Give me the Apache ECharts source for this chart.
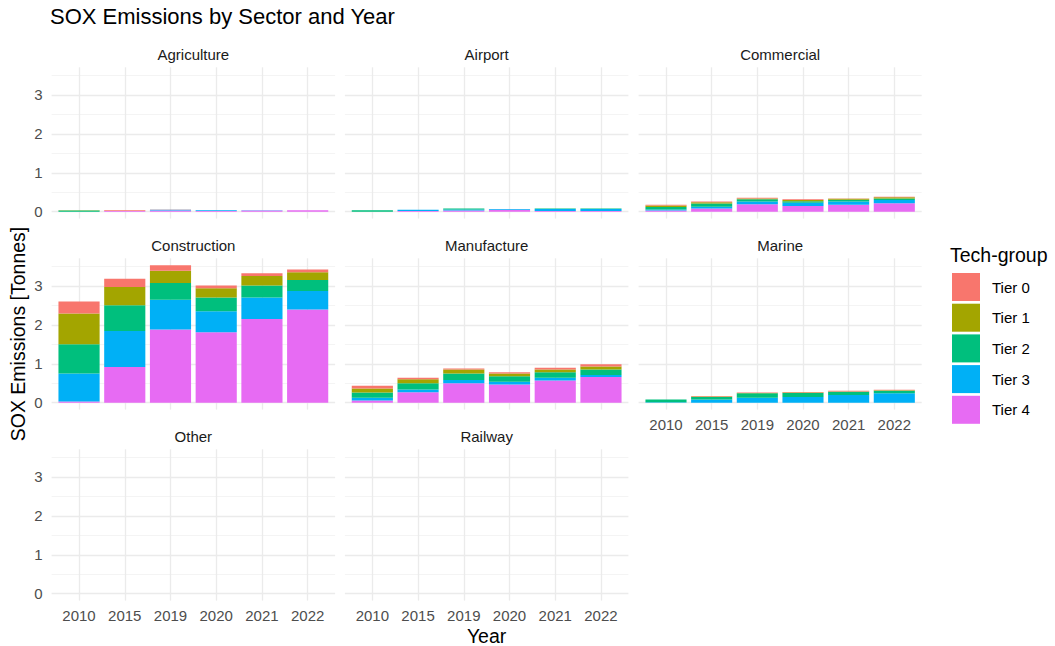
<!DOCTYPE html>
<html>
<head>
<meta charset="utf-8">
<script src="https://cdn.jsdelivr.net/npm/echarts@6/dist/echarts.min.js"></script>
<style>
  html, body { margin: 0; padding: 0; background: #ffffff; }
  #chart { width: 1055px; height: 646px; }
</style>
</head>
<body>
<div id="chart"></div>
<script>
// Facet labels, years and tech groups
const sectors = ['Agriculture', 'Airport', 'Commercial', 'Construction', 'Manufacture', 'Marine', 'Other', 'Railway'];
const years = ['2010', '2015', '2019', '2020', '2021', '2022'];
const tiers = ['Tier 0', 'Tier 1', 'Tier 2', 'Tier 3', 'Tier 4'];
const yTicks = [0, 1, 2, 3];

// SOX emissions in tonnes, one row per sector (same order as sectors), one value per year
const tier0 = [
  [0, 0.02, 0.01, 0, 0, 0],
  [0, 0, 0, 0, 0, 0],
  [0.02, 0.02, 0.02, 0.02, 0.01, 0.015],
  [0.31, 0.21, 0.14, 0.07, 0.07, 0.07],
  [0.07, 0.04, 0.03, 0.03, 0.05, 0.06],
  [0, 0.01, 0.01, 0.015, 0.02, 0.01],
  [0, 0, 0, 0, 0, 0],
  [0, 0, 0, 0, 0, 0]
];
const tier1 = [
  [0.01, 0, 0, 0, 0, 0],
  [0, 0, 0, 0, 0, 0],
  [0.04, 0.03, 0.02, 0.03, 0.02, 0.03],
  [0.79, 0.47, 0.32, 0.24, 0.24, 0.20],
  [0.10, 0.10, 0.10, 0.07, 0.07, 0.08],
  [0, 0.01, 0.01, 0.01, 0.01, 0.01],
  [0, 0, 0, 0, 0, 0],
  [0, 0, 0, 0, 0, 0]
];
const tier2 = [
  [0.03, 0, 0, 0, 0, 0],
  [0.035, 0, 0.02, 0, 0.01, 0.01],
  [0.06, 0.08, 0.06, 0.04, 0.05, 0.04],
  [0.75, 0.66, 0.43, 0.35, 0.31, 0.28],
  [0.135, 0.16, 0.17, 0.14, 0.14, 0.14],
  [0.07, 0.07, 0.11, 0.10, 0.08, 0.07],
  [0, 0, 0, 0, 0, 0],
  [0, 0, 0, 0, 0, 0]
];
const tier3 = [
  [0, 0, 0.02, 0.02, 0.01, 0.005],
  [0, 0.03, 0.03, 0.02, 0.05, 0.05],
  [0.03, 0.05, 0.07, 0.08, 0.08, 0.08],
  [0.72, 0.92, 0.76, 0.54, 0.55, 0.48],
  [0.07, 0.07, 0.08, 0.07, 0.07, 0.05],
  [0.01, 0.08, 0.13, 0.15, 0.20, 0.24],
  [0, 0, 0, 0, 0, 0],
  [0, 0, 0, 0, 0, 0]
];
const tier4 = [
  [0, 0.02, 0.03, 0.02, 0.03, 0.035],
  [0, 0.02, 0.03, 0.05, 0.02, 0.02],
  [0.03, 0.08, 0.19, 0.15, 0.18, 0.22],
  [0.03, 0.92, 1.88, 1.81, 2.15, 2.39],
  [0.06, 0.27, 0.50, 0.47, 0.57, 0.66],
  [0, 0, 0, 0, 0, 0],
  [0, 0, 0, 0, 0, 0],
  [0, 0, 0, 0, 0, 0]
];
const tierValues = [tier0, tier1, tier2, tier3, tier4];
const tierColors = ['#F8766D', '#A3A500', '#00BF7D', '#00B0F6', '#E76BF3'];

const FONT = "'Liberation Sans', Arial, Helvetica, sans-serif";
const GRID_MAJOR = '#EBEBEB';

// Panel boxes (pixels) for a 3-column facet layout
const colEdges = [[51.6, 335.1], [344.9, 628.4], [638.6, 921.7]];
const rowEdges = [[67.3, 218.6], [258.3, 409.6], [449.3, 600.6]];

// Shared y range: stacked maximum with 5% padding on both sides
let stackMax = 0;
for (let s = 0; s < sectors.length; s++) {
  for (let k = 0; k < years.length; k++) {
    let tot = 0;
    for (let t = 0; t < tiers.length; t++) tot += tierValues[t][s][k];
    stackMax = Math.max(stackMax, tot);
  }
}
const yMin = -0.05 * stackMax;
const yMax = stackMax * 1.05;

const grids = [], xAxes = [], yAxes = [], series = [], graphics = [];

sectors.forEach((name, s) => {
  const col = s % 3, row = Math.floor(s / 3);
  const [pl, pr] = colEdges[col];
  const [pt, pb] = rowEdges[row];
  const band = (pr - pl) / 6.2;
  const inset = 0.1 * band;
  const showY = col === 0;
  const showX = (row === 2) || (row === 1 && col === 2);

  // Panel grid: horizontal gridlines and y labels across the whole panel
  const gPanel = grids.length;
  grids.push({ left: pl, top: pt, width: pr - pl, height: pb - pt, containLabel: false });
  xAxes.push({
    gridIndex: gPanel, type: 'value', min: 0, max: 1, show: false
  });
  yAxes.push({
    gridIndex: gPanel, type: 'value', min: yMin, max: yMax,
    minInterval: 1, maxInterval: 1,
    axisLine: { show: false }, axisTick: { show: false },
    axisLabel: {
      show: showY, margin: 9, color: '#4D4D4D', fontSize: 15, fontFamily: FONT,
      showMinLabel: false, showMaxLabel: false,
      formatter: v => (yTicks.indexOf(Math.round(v * 1000) / 1000) >= 0 ? String(Math.round(v)) : '')
    },
    splitLine: { show: true, showMinLine: false, showMaxLine: false, lineStyle: { color: GRID_MAJOR, width: 1.3 } },
    minorTick: { show: false, splitNumber: 2 },
    minorSplitLine: { show: true, lineStyle: { color: '#F1F1F1', width: 0.8 } }
  });

  // Bar grid: six category bands, inset so the panel keeps its side padding
  const gBar = grids.length;
  grids.push({ left: pl + inset, top: pt, width: (pr - pl) - 2 * inset, height: pb - pt, containLabel: false });
  xAxes.push({
    gridIndex: gBar, type: 'category', data: years, boundaryGap: true,
    axisLine: { show: false }, axisTick: { show: false },
    axisLabel: { show: showX, margin: 7, color: '#4D4D4D', fontSize: 15, fontFamily: FONT, interval: 0 },
    splitLine: { show: true, alignWithLabel: true, lineStyle: { color: GRID_MAJOR, width: 1.3 } }
  });
  yAxes.push({
    gridIndex: gBar, type: 'value', min: yMin, max: yMax, show: false,
    splitLine: { show: false }
  });

  // Stack from Tier 4 (bottom) up to Tier 0 (top)
  for (let t = tiers.length - 1; t >= 0; t--) {
    series.push({
      name: tiers[t], type: 'bar', stack: 'sector' + s,
      xAxisIndex: gBar, yAxisIndex: gBar,
      barWidth: '90%',
      itemStyle: { color: tierColors[t] },
      emphasis: { disabled: true },
      data: tierValues[t][s]
    });
  }

  // Strip label
  graphics.push({
    type: 'text', x: (pl + pr) / 2, y: pt - 12.5,
    style: { text: name, fill: '#1A1A1A', font: '15px ' + FONT, textAlign: 'center', textVerticalAlign: 'middle' }
  });
});

graphics.push(
  { type: 'text', x: 50, y: 16,
    style: { text: 'SOX Emissions by Sector and Year', fill: '#000', font: '22px ' + FONT, textAlign: 'left', textVerticalAlign: 'middle' } },
  { type: 'text', x: 486.6, y: 636,
    style: { text: 'Year', fill: '#000', font: '19.5px ' + FONT, textAlign: 'center', textVerticalAlign: 'middle' } },
  { type: 'text', x: 18, y: 334, rotation: Math.PI / 2,
    style: { text: 'SOX Emissions [Tonnes]', fill: '#000', font: '19.5px ' + FONT, textAlign: 'center', textVerticalAlign: 'middle' } },
  { type: 'text', x: 950, y: 255,
    style: { text: 'Tech-group', fill: '#000', font: '19.5px ' + FONT, textAlign: 'left', textVerticalAlign: 'middle' } }
);

const chart = echarts.init(document.getElementById('chart'), null, { renderer: 'svg' });
chart.setOption({
  animation: false,
  backgroundColor: '#ffffff',
  grid: grids,
  xAxis: xAxes,
  yAxis: yAxes,
  legend: {
    data: tiers, orient: 'vertical', left: 952, top: 273, padding: 0,
    itemWidth: 28, itemHeight: 28, itemGap: 2.7, icon: 'rect',
    selectedMode: false,
    textStyle: { color: '#000', fontSize: 15, fontFamily: FONT, padding: [0, 0, 0, 7] }
  },
  graphic: graphics,
  series: series
});
</script>
</body>
</html>
